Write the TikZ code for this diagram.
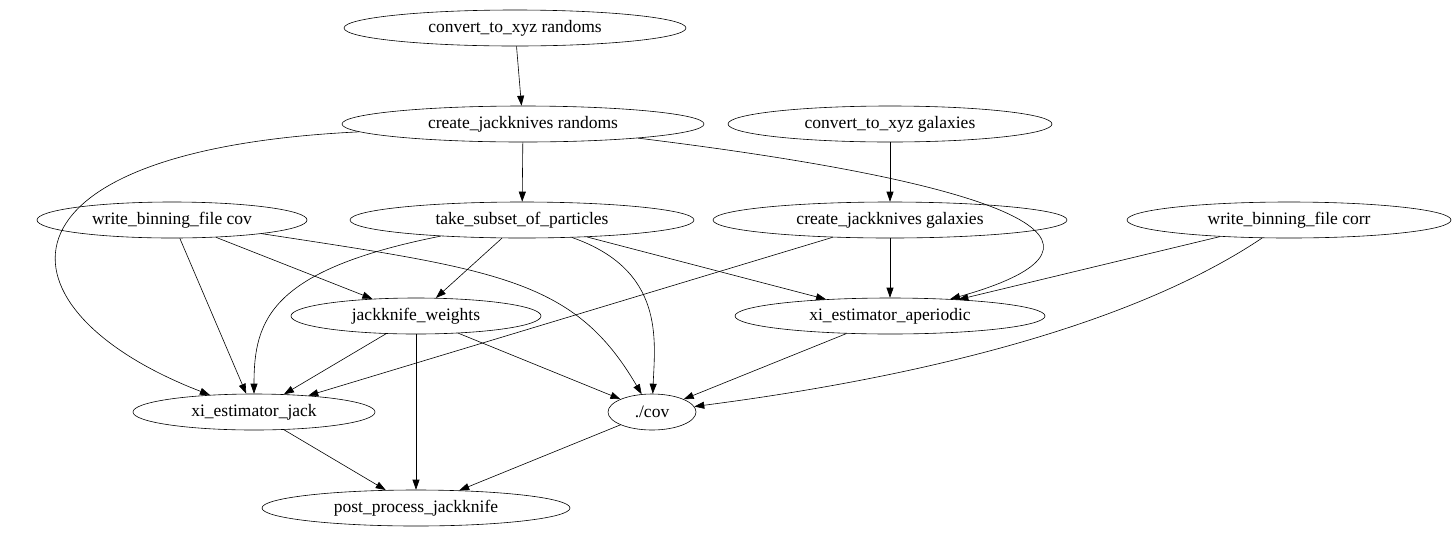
\documentclass[tikz,border=0pt]{standalone}
\usepackage{fontspec}
\setmainfont{Liberation Serif}
\usetikzlibrary{arrows.meta,shapes.geometric}
\begin{document}
\begin{tikzpicture}[x=1pt,y=-1pt,>={Triangle[length=10pt,width=7pt]},->,semithick,
    task/.style={shape=ellipse,draw=black,inner sep=0pt,minimum height=36pt,font=\fontsize{17.5}{20}\selectfont}]
    \useasboundingbox (0,0) rectangle (1456,539);
    \node[task,minimum width=342pt](cxr)at(515,28){convert\_to\_xyz randoms};
    \node[task,minimum width=362pt](cjr)at(523,124){create\_jackknives randoms};
    \node[task,minimum width=324pt](cxg)at(890,124){convert\_to\_xyz galaxies};
    \node[task,minimum width=270pt](wbcov)at(172,220){write\_binning\_file cov};
    \node[task,minimum width=344pt](tsp)at(522,220){take\_subset\_of\_particles};
    \node[task,minimum width=354pt](cjg)at(890,220){create\_jackknives galaxies};
    \node[task,minimum width=324pt](wbcorr)at(1289,220){write\_binning\_file corr};
    \node[task,minimum width=250pt](jw)at(416,316){jackknife\_weights};
    \node[task,minimum width=310pt](xia)at(890,316){xi\_estimator\_aperiodic};
    \node[task,minimum width=242pt](xij)at(254,412){xi\_estimator\_jack};
    \node[task,minimum width=88pt](cov)at(652,412){./cov};
    \node[task,minimum width=308pt](ppj)at(416,508){post\_process\_jackknife};
    \draw (cxr) -- (cjr);
    \draw (cjr) -- (tsp);
    \draw (cjr) .. controls (-20,150) and (-10,310) .. (xij);
    \draw (cjr) .. controls (1060,190) and (1125,250) .. (xia);
    \draw (cxg) -- (cjg);
    \draw (cjg) -- (xia);
    \draw (cjg) -- (xij);
    \draw (tsp) .. controls (270,270) and (254,320) .. (xij);
    \draw (tsp) -- (jw);
    \draw (tsp) .. controls (665,270) and (655,340) .. (cov);
    \draw (tsp) -- (xia);
    \draw (wbcov) -- (xij);
    \draw (wbcov) -- (jw);
    \draw (wbcov) .. controls (500,270) and (575,280) .. (cov);
    \draw (wbcorr) -- (xia);
    \draw (wbcorr) .. controls (1110,340) and (860,385) .. (cov);
    \draw (jw) -- (xij);
    \draw (jw) -- (ppj);
    \draw (jw) -- (cov);
    \draw (xia) -- (cov);
    \draw (xij) -- (ppj);
    \draw (cov) -- (ppj);
\end{tikzpicture}
\end{document}
